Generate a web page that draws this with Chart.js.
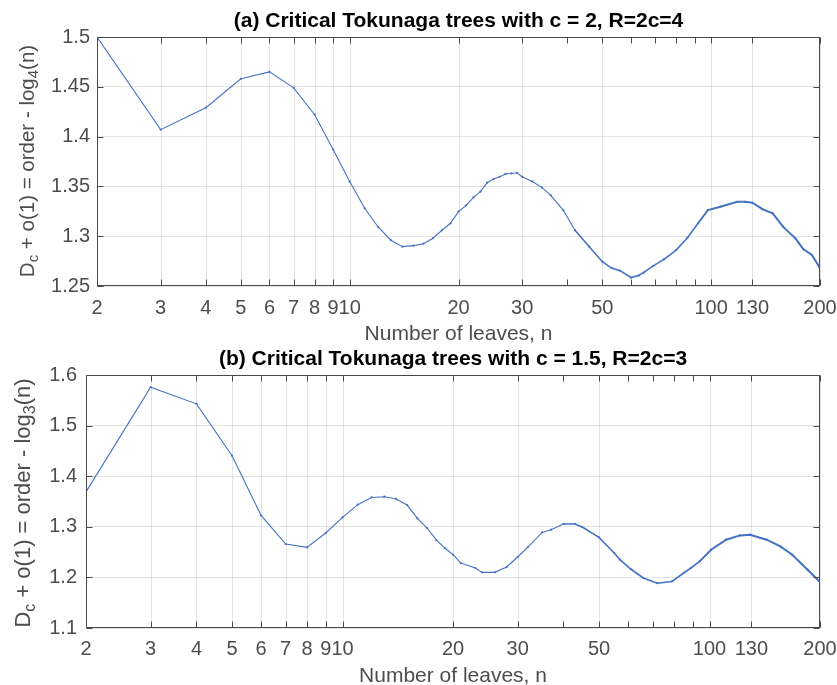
<!DOCTYPE html>
<html>
<head>
<meta charset="utf-8">
<script src="https://cdn.jsdelivr.net/npm/chart.js@4/dist/chart.umd.min.js"></script>
<style>
  html, body { margin: 0; padding: 0; background: #ffffff; }
  #wrap { position: relative; width: 837px; height: 685px; overflow: hidden; background: #ffffff; }
  canvas { position: absolute; left: 0; }
</style>
</head>
<body>
<div id="wrap">
  <canvas id="chartA" width="837" height="350" style="top:0px"></canvas>
  <canvas id="chartB" width="837" height="350" style="top:342px"></canvas>
</div>
<script>
// ---------------- DATA ----------------
// Panel (a): c = 2, R = 4
const leavesA = [2, 3, 4, 5, 6, 7, 8, 9, 10, 11, 12, 13, 14, 15, 16, 17, 18, 19, 20,
  21, 22, 23, 24, 25, 26, 27, 28, 29, 30, 32, 34, 36, 39, 42, 46, 50, 53, 56, 60, 63,
  65, 69, 74, 80, 86, 92, 98, 106, 118, 124, 130, 139, 148, 158, 171, 180, 190, 200];
const valuesA = [1.500, 1.407, 1.429, 1.458, 1.465, 1.449, 1.422, 1.387, 1.355, 1.328,
  1.309, 1.296, 1.2895, 1.2905, 1.2925, 1.298, 1.306, 1.313, 1.3246,
  1.331, 1.339, 1.3447, 1.3537, 1.3574, 1.3597, 1.3625, 1.363, 1.3637, 1.3597, 1.355,
  1.349, 1.341, 1.326, 1.306, 1.2895, 1.2744, 1.268, 1.2654, 1.2585, 1.2605,
  1.2634, 1.270, 1.2767, 1.2861, 1.2985, 1.313, 1.3263, 1.3296, 1.3346, 1.3345, 1.3336,
  1.327, 1.323, 1.3096, 1.2979, 1.2868, 1.2811, 1.2678];

// Panel (b): c = 1.5, R = 3
const leavesB = [2, 3, 4, 5, 6, 7, 8, 9, 10, 11, 12, 13, 14, 15, 16, 17, 18, 19, 20,
  21, 23, 24, 26, 28, 30, 32, 35, 37, 40, 43, 45, 50, 55, 57, 61, 66, 72, 79, 85, 89,
  94, 101, 111, 121, 129, 143, 156, 168, 185, 200];
const valuesB = [1.369, 1.576, 1.543, 1.4405, 1.3225, 1.266, 1.2593, 1.2877, 1.3186,
  1.3437, 1.358, 1.3595, 1.355, 1.343, 1.3166, 1.2976, 1.274, 1.258, 1.2449,
  1.2285, 1.2186, 1.210, 1.210, 1.2205, 1.2403, 1.26, 1.289, 1.2943, 1.3055, 1.3055,
  1.2996, 1.279, 1.2482, 1.235, 1.2166, 1.1988, 1.1885, 1.192, 1.2087, 1.2186,
  1.2316, 1.2547, 1.2745, 1.283, 1.2844, 1.2745, 1.2613, 1.2449, 1.2152, 1.191];

// Tick values
const xMajorTicks = [2, 3, 4, 5, 6, 7, 8, 9, 10, 20, 30, 50, 100, 130, 200];
const xMinorTicks = [40, 60, 70, 80, 90];
const yTicksA = [1.25, 1.3, 1.35, 1.4, 1.45, 1.5];
const yTicksB = [1.1, 1.2, 1.3, 1.4, 1.5, 1.6];

const titleA = '(a) Critical Tokunaga trees with c = 2, R=2c=4';
const titleB = '(b) Critical Tokunaga trees with c = 1.5, R=2c=3';
const xTitle = 'Number of leaves, n';
const yLabelA = [['D', false], ['c', true], [' + o(1) = order - log', false], ['4', true], ['(n)', false]];
const yLabelB = [['D', false], ['c', true], [' + o(1) = order - log', false], ['3', true], ['(n)', false]];

// ---------------- STYLE ----------------
const FONT = '"Liberation Sans", Arial, Helvetica, sans-serif';
const TEXT = '#4d4d4d';
const AXIS = '#4a4a4a';
const GRID = 'rgba(38,38,38,0.13)';
const LINE = '#4472C4';

const decorPlugin = {
  id: 'decor',
  beforeDatasetsDraw(chart) {
    // vertical grid lines at the labelled x ticks only
    const ctx = chart.ctx, a = chart.chartArea, xs = chart.scales.x;
    ctx.save();
    ctx.strokeStyle = GRID;
    ctx.lineWidth = 1;
    ctx.beginPath();
    xMajorTicks.forEach(v => {
      const px = Math.round(xs.getPixelForValue(v)) + 0.5;
      ctx.moveTo(px, a.top); ctx.lineTo(px, a.bottom);
    });
    ctx.stroke();
    ctx.restore();
  },
  afterDraw(chart) {
    const g = chart.options.plugins.decor;
    const ctx = chart.ctx;
    const a = chart.chartArea;
    const xs = chart.scales.x, ys = chart.scales.y;
    const L = Math.round(a.left) + 0.5, R = Math.round(a.right) - 0.5;
    const T = Math.round(a.top) + 0.5, B = Math.round(a.bottom) - 0.5;
    ctx.save();
    ctx.strokeStyle = AXIS;
    ctx.lineWidth = 1;
    // inward tick marks
    ctx.beginPath();
    xMajorTicks.concat(xMinorTicks).forEach(v => {
      const px = Math.round(xs.getPixelForValue(v)) + 0.5;
      ctx.moveTo(px, B); ctx.lineTo(px, B - 6);
      ctx.moveTo(px, T); ctx.lineTo(px, T + 6);
    });
    g.yTicks.forEach(v => {
      const py = Math.round(ys.getPixelForValue(v)) + 0.5;
      ctx.moveTo(L, py); ctx.lineTo(L + 6, py);
      ctx.moveTo(R, py); ctx.lineTo(R - 6, py);
    });
    ctx.stroke();
    // box
    ctx.strokeRect(L, T, R - L, B - T);
    // title
    ctx.fillStyle = '#000000';
    ctx.font = 'bold 21px ' + FONT;
    ctx.textAlign = 'center';
    ctx.textBaseline = 'middle';
    ctx.fillText(g.title, (a.left + a.right) / 2, a.top - g.titleGap);
    // rotated y label with subscripts
    const mainFont = g.ylabelSize + 'px ' + FONT;
    const subFont = Math.round(g.ylabelSize * 0.72) + 'px ' + FONT;
    let total = 0;
    g.ylabel.forEach(([t, sub]) => { ctx.font = sub ? subFont : mainFont; total += ctx.measureText(t).width; });
    ctx.translate(g.ylabelX, g.ylabelY);
    ctx.rotate(-Math.PI / 2);
    ctx.fillStyle = TEXT;
    ctx.textAlign = 'left';
    ctx.textBaseline = 'middle';
    let x = -total / 2;
    g.ylabel.forEach(([t, sub]) => {
      ctx.font = sub ? subFont : mainFont;
      ctx.fillText(t, x, sub ? g.ylabelSize * 0.3 : 0);
      x += ctx.measureText(t).width;
    });
    ctx.restore();
  }
};

function makeChart(id, leaves, values, yTicks, title, ylabel, geom) {
  const canvasH = 350;
  return new Chart(document.getElementById(id), {
    type: 'line',
    data: {
      datasets: [{
        data: leaves.map((n, i) => ({ x: n, y: values[i] })),
        borderColor: LINE,
        backgroundColor: LINE,
        borderWidth: 1.1,
        pointRadius: 1.1,
        pointHoverRadius: 0,
        pointBorderWidth: 0,
        tension: 0,
        fill: false,
        segment: {
          // the reference draws a marker at every integer n, so the trace looks heavier where points crowd together
          borderWidth: c => (c.p0.parsed.x >= 90 ? 2 : (c.p0.parsed.x >= 40 ? 1.6 : 1.1))
        }
      }]
    },
    options: {
      responsive: false,
      animation: false,
      devicePixelRatio: 1,
      layout: { padding: { left: 0, right: 837 - geom.right, top: geom.top, bottom: 0 } },
      plugins: {
        legend: { display: false },
        tooltip: { enabled: false },
        title: { display: false },
        decor: { yTicks, title, ylabel, titleGap: 16, ylabelX: geom.ylabelX, ylabelY: geom.ylabelY, ylabelSize: geom.ylabelSize }
      },
      scales: {
        x: {
          type: 'logarithmic',
          min: 2, max: 200,
          // labelled ticks first, unlabelled minor ticks last (keeps the label overflow at the ends small)
          afterBuildTicks: s => { s.ticks = xMajorTicks.concat(xMinorTicks).map(v => ({ value: v })); },
          afterFit: s => { s.height = canvasH - geom.bottom; },
          ticks: {
            autoSkip: false, maxRotation: 0, minRotation: 0,
            padding: geom.tickPadX, color: TEXT,
            font: { family: FONT, size: 20 },
            callback: v => xMajorTicks.includes(v) ? String(v) : ''
          },
          grid: { display: false, drawTicks: false },
          border: { display: false },
          title: {
            display: true, text: xTitle, color: TEXT,
            font: { family: FONT, size: 21 },
            padding: { top: 0, bottom: 3 }
          }
        },
        y: {
          type: 'linear',
          min: yTicks[0], max: yTicks[yTicks.length - 1],
          afterBuildTicks: s => { s.ticks = yTicks.map(v => ({ value: v })); },
          afterFit: s => { s.width = geom.left; },
          ticks: {
            padding: geom.tickPadY, color: TEXT,
            font: { family: FONT, size: 20 },
            callback: v => String(parseFloat(Number(v).toFixed(2)))
          },
          grid: { drawTicks: false, color: GRID },
          border: { display: false }
        }
      }
    },
    plugins: [decorPlugin]
  });
}

makeChart('chartA', leavesA, valuesA, yTicksA, titleA, yLabelA,
  { left: 97, right: 820, top: 37, bottom: 286, tickPadX: 10, tickPadY: 7, ylabelX: 28, ylabelY: 161, ylabelSize: 20.5 });
makeChart('chartB', leavesB, valuesB, yTicksB, titleB, yLabelB,
  { left: 86, right: 820, top: 33, bottom: 286, tickPadX: 9, tickPadY: 9, ylabelX: 24, ylabelY: 161, ylabelSize: 22 });
</script>
</body>
</html>
